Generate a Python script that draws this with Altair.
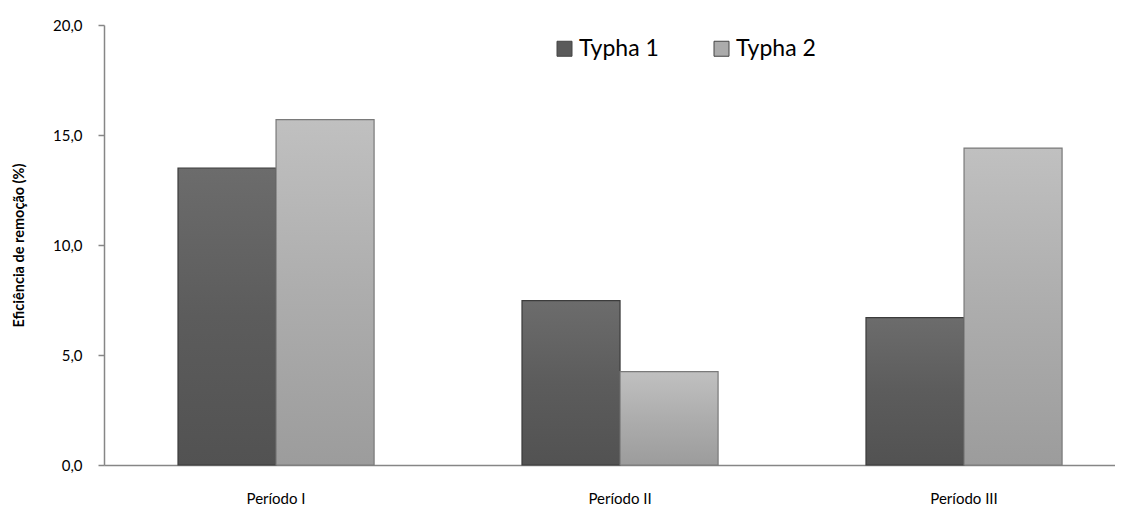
import altair as alt
import pandas as pd

periods = ["Período I", "Período II", "Período III"]
series = ["Typha 1", "Typha 2"]
typha1 = [13.5, 7.47, 6.7]
typha2 = [15.7, 4.24, 14.4]
y_ticks = [0, 5, 10, 15, 20]

rows = []
for p, a, b in zip(periods, typha1, typha2):
    rows.append({"periodo": p, "serie": "Typha 1", "valor": a})
    rows.append({"periodo": p, "serie": "Typha 2", "valor": b})
df = pd.DataFrame(rows)

FONT = "Lato"
AXIS_GRAY = "#868686"

x = alt.X(
    "periodo:N",
    sort=periods,
    scale=alt.Scale(paddingInner=0.43, paddingOuter=0.1845, align=0.583),
    axis=alt.Axis(
        title=None, labelAngle=0, ticks=False, labelFontSize=15,
        labelPadding=26, labelFont=FONT, labelColor="#000000",
        domainColor=AXIS_GRAY, domainWidth=1.5,
    ),
)
xo = alt.XOffset("serie:N", scale=alt.Scale(domain=series, paddingInner=0, paddingOuter=0))
y = alt.Y(
    "valor:Q",
    scale=alt.Scale(domain=[0, 20]),
    axis=alt.Axis(
        values=y_ticks,
        labelExpr="replace(format(datum.value, '.1f'), '.', ',')",
        title="Eficiência de remoção (%)",
        titleFont=FONT, titleFontSize=14.5, titleFontWeight="bold",
        titleColor="#000000", titlePadding=26,
        labelFont=FONT, labelFontSize=15, labelColor="#000000",
        labelPadding=16, tickSize=6, tickColor=AXIS_GRAY, tickWidth=1.5,
        domainColor=AXIS_GRAY, domainWidth=1.5, grid=False,
    ),
)

base = alt.Chart(df).mark_bar().encode(
    x=x, xOffset=xo, y=y,
    color=alt.Color(
        "serie:N",
        scale=alt.Scale(domain=series, range=["#5a5a5a", "#ababab"]),
        legend=alt.Legend(
            title=None, orient="none", direction="horizontal",
            legendX=449, legendY=12, padding=0,
            symbolType="square", symbolSize=225,
            symbolStrokeColor="#444444", symbolStrokeWidth=1,
            labelFont=FONT, labelFontSize=23, labelColor="#000000",
            labelOffset=3, columnPadding=51,
        ),
    ),
)

grads = {
    "Typha 1": (["#6c6c6c", "#5c5c5c", "#525252"], "#3c3c3c"),
    "Typha 2": (["#c0c0c0", "#adadad", "#9c9c9c"], "#7a7a7a"),
}
layers = [base]
for s in series:
    stops, edge = grads[s]
    g = alt.Gradient(
        gradient="linear", x1=0, y1=0, x2=0, y2=1,
        stops=[
            alt.GradientStop(color=stops[0], offset=0),
            alt.GradientStop(color=stops[1], offset=0.5),
            alt.GradientStop(color=stops[2], offset=1),
        ],
    )
    layers.append(
        alt.Chart(df)
        .transform_filter(alt.datum.serie == s)
        .mark_bar(color=g, stroke=edge, strokeWidth=1.2)
        .encode(x=x, xOffset=xo, y=y)
    )

chart = (
    alt.layer(*layers)
    .properties(
        width=1011, height=440,
        autosize=alt.AutoSizeParams(type="none"),
        padding={"left": 96, "top": 17, "right": 0, "bottom": 41},
    )
    .configure_view(stroke=None)
)

chart.save("out.html", embed_options={"renderer": "svg", "actions": False})
